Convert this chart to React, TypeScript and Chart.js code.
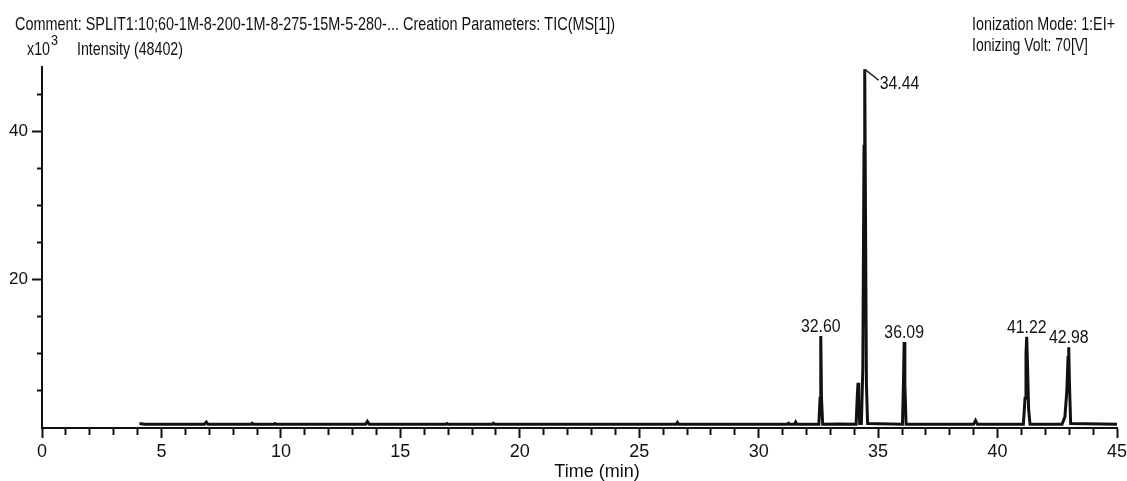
import { useEffect, useRef } from 'react';
import { Chart, registerables } from 'chart.js';

Chart.register(...registerables);

// ---- data ----
const traceTimes = [
  4.08, 4.3, 6.8, 6.88, 6.95, 8.75, 8.8, 8.85, 9.7, 9.75, 9.8, 13.55, 13.62, 13.7,
  16.9, 16.95, 17.0, 18.85, 18.9, 18.95, 24.0, 26.55, 26.6, 26.65, 30.0, 31.2, 31.25,
  31.3, 31.5, 31.55, 31.6, 32.52, 32.57, 32.6, 32.63, 32.68, 33.4, 34.08, 34.13, 34.16,
  34.19, 34.23, 34.3, 34.36, 34.41, 34.44, 34.47, 34.51, 34.56, 36.02, 36.06, 36.09,
  36.12, 36.17, 39.0, 39.08, 39.16, 41.08, 41.15, 41.19, 41.22, 41.25, 41.3, 41.36,
  42.7, 42.82, 42.9, 42.95, 42.98, 43.01, 43.06, 45.0,
];
const traceIntensity = [
  0.6, 0.5, 0.5, 0.8, 0.5, 0.5, 0.65, 0.5, 0.5, 0.6, 0.5, 0.5, 0.9, 0.5,
  0.5, 0.6, 0.5, 0.5, 0.65, 0.5, 0.5, 0.5, 0.75, 0.5, 0.5, 0.5, 0.65,
  0.5, 0.5, 0.8, 0.5, 0.5, 4.0, 12.4, 4.0, 0.5, 0.55, 0.5, 4.5, 6.1,
  4.0, 0.6, 0.6, 8.0, 38.0, 48.4, 30.0, 6.0, 0.6, 0.5, 6.0, 11.6,
  6.0, 0.5, 0.5, 1.0, 0.5, 0.5, 4.0, 10.0, 12.3, 9.0, 2.5, 0.5,
  0.5, 1.5, 5.0, 9.5, 10.9, 6.0, 0.6, 0.5,
];
const peakTimes = [32.6, 34.44, 36.09, 41.22, 42.98];
const peakHeights = [12.4, 48.4, 11.6, 12.3, 10.9];
const peakLabels = ['32.60', '34.44', '36.09', '41.22', '42.98'];
const xLabeledTicks = [0, 5, 10, 15, 20, 25, 30, 35, 40, 45];
const yLabeledTicks = [20, 40];
const commentText = 'Comment: SPLIT1:10;60-1M-8-200-1M-8-275-15M-5-280-... Creation Parameters: TIC(MS[1])';
const modeText = 'Ionization Mode: 1:EI+';
const voltText = 'Ionizing Volt: 70[V]';
const yUnitText = 'x10';
const yUnitExp = '3';
const yTitleText = 'Intensity (48402)';
const xTitleText = 'Time (min)';

const INK = '#111111';
const NARROW = '"Liberation Sans Narrow", "Arial Narrow", "Liberation Sans", Arial, sans-serif';
const SANS = '"Liberation Sans", Arial, Helvetica, sans-serif';

function drawFit(ctx: CanvasRenderingContext2D, text: string, x: number, baseline: number, width: number, font: string) {
  ctx.save();
  ctx.font = font;
  const w = ctx.measureText(text).width;
  ctx.translate(x, baseline);
  ctx.scale(width / w, 1);
  ctx.textAlign = 'left';
  ctx.textBaseline = 'alphabetic';
  ctx.fillStyle = INK;
  ctx.fillText(text, 0, 0);
  ctx.restore();
}

function drawScaled(ctx: CanvasRenderingContext2D, text: string, cx: number, baseline: number, sx: number, font: string, align: 'center' | 'left') {
  ctx.save();
  ctx.font = font;
  const w = ctx.measureText(text).width * sx;
  const left = align === 'center' ? cx - w / 2 : cx;
  ctx.translate(left, baseline);
  ctx.scale(sx, 1);
  ctx.textAlign = 'left';
  ctx.textBaseline = 'alphabetic';
  ctx.fillStyle = INK;
  ctx.fillText(text, 0, 0);
  ctx.restore();
}

const annotationPlugin = {
  id: 'gcAnnotations',
  afterDraw(chart: any) {
    const ctx: CanvasRenderingContext2D = chart.ctx;
    const xs = chart.scales.x;
    const ys = chart.scales.y;
    // header
    drawFit(ctx, commentText, 15, 30, 600, `19px ${NARROW}`);
    drawFit(ctx, modeText, 972, 30, 143, `19px ${NARROW}`);
    drawFit(ctx, voltText, 972, 51, 116, `19px ${NARROW}`);
    drawFit(ctx, yUnitText, 27, 55, 23, `19px ${NARROW}`);
    drawFit(ctx, yUnitExp, 51, 45, 7, `15px ${NARROW}`);
    drawFit(ctx, yTitleText, 77, 55, 106, `19px ${NARROW}`);
    // x title
    ctx.save();
    ctx.font = `18px ${SANS}`;
    ctx.fillStyle = INK;
    ctx.textAlign = 'center';
    ctx.textBaseline = 'alphabetic';
    ctx.fillText(xTitleText, 597, 477);
    ctx.restore();
    // peak labels
    peakTimes.forEach((t, i) => {
      const px = xs.getPixelForValue(t);
      const py = ys.getPixelForValue(peakHeights[i]);
      if (peakLabels[i] === '34.44') {
        ctx.save();
        ctx.strokeStyle = INK;
        ctx.lineWidth = 1.5;
        ctx.beginPath();
        ctx.moveTo(px, py);
        ctx.lineTo(px + 14, py + 11);
        ctx.stroke();
        ctx.restore();
        drawScaled(ctx, peakLabels[i], px + 15, py + 20, 0.88, `18px ${SANS}`, 'left');
      } else {
        drawScaled(ctx, peakLabels[i], px, py - 4, 0.88, `18px ${SANS}`, 'center');
      }
    });
  },
};

export default function App() {
  const ref = useRef<HTMLCanvasElement | null>(null);
  useEffect(() => {
    if (!ref.current) return;
    const points = traceTimes.map((t, i) => ({ x: t, y: traceIntensity[i] }));
    const chart = new Chart(ref.current, {
      type: 'line',
      data: {
        datasets: [
          {
            data: points,
            borderColor: INK,
            borderWidth: 3,
            pointRadius: 0,
            tension: 0,
            fill: false,
          },
          {
            data: points,
            borderColor: 'rgba(200,200,200,0.9)',
            borderWidth: 0.8,
            pointRadius: 0,
            tension: 0,
            fill: false,
          },
        ],
      },
      options: {
        animation: false,
        responsive: false,
        devicePixelRatio: 1,
        layout: { padding: { top: 67, right: 0, bottom: 0, left: 0 } },
        plugins: { legend: { display: false }, tooltip: { enabled: false }, title: { display: false } },
        scales: {
          x: {
            type: 'linear',
            min: 0,
            max: 45,
            afterFit: (s: any) => { s.height = 53; s.paddingRight = 10; s.paddingLeft = 0; },
            border: { display: true, color: INK, width: 2 },
            grid: {
              display: true,
              drawOnChartArea: false,
              drawTicks: true,
              tickLength: 10,
              tickColor: INK,
              tickWidth: 2,
              tickBorderDash: (c: any) => (c.tick && xLabeledTicks.includes(c.tick.value) ? [] : [6, 30]),
            },
            ticks: {
              stepSize: 1,
              autoSkip: false,
              maxRotation: 0,
              includeBounds: false,
              padding: 3,
              color: INK,
              font: { size: 18, family: SANS },
              callback: (v: any) => (xLabeledTicks.includes(Number(v)) ? String(v) : ''),
            },
          },
          y: {
            type: 'linear',
            min: 0,
            max: 48.7,
            afterFit: (s: any) => { s.width = 42; },
            border: { display: true, color: INK, width: 2 },
            grid: {
              display: true,
              drawOnChartArea: false,
              drawTicks: true,
              tickLength: 10,
              tickColor: (c: any) => (c.tick && c.tick.value === 0 ? 'rgba(0,0,0,0)' : INK),
              tickWidth: 2,
              tickBorderDash: (c: any) => (c.tick && yLabeledTicks.includes(c.tick.value) ? [] : [0, 5, 5, 30]),
            },
            ticks: {
              stepSize: 5,
              autoSkip: false,
              includeBounds: false,
              padding: 4,
              color: INK,
              font: { size: 17, family: SANS },
              callback: (v: any) => (yLabeledTicks.includes(Number(v)) ? String(v) : ''),
            },
          },
        },
      },
      plugins: [annotationPlugin],
    });
    return () => chart.destroy();
  }, []);
  return (
    <div style={{ position: 'fixed', left: 0, top: 0, width: 1127, height: 481, background: '#fff' }}>
      <canvas ref={ref} width={1127} height={481} style={{ display: 'block' }} />
    </div>
  );
}
